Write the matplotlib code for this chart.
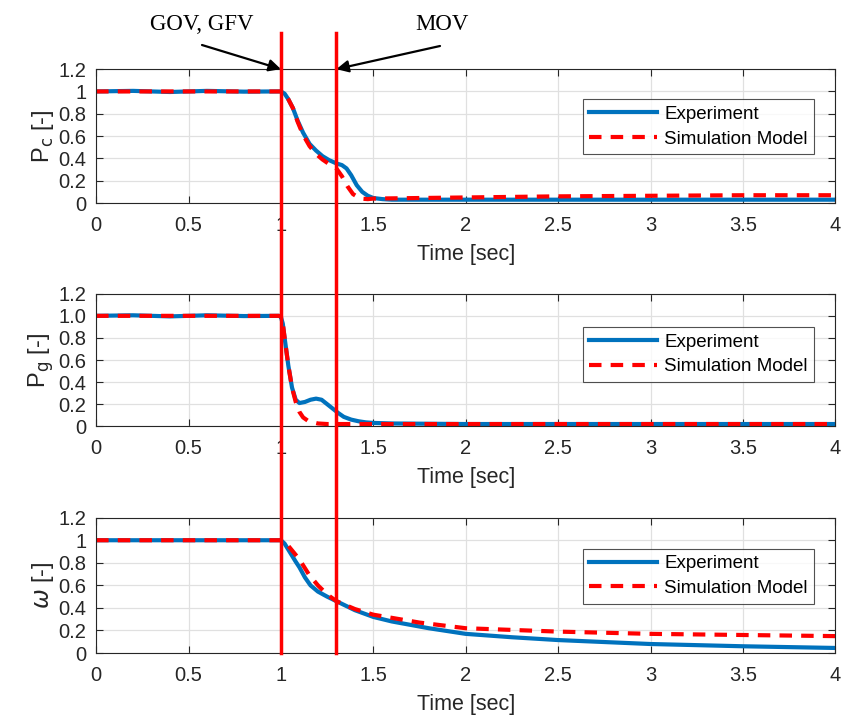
import numpy as np
import matplotlib.pyplot as plt
from matplotlib.transforms import blended_transform_factory

plt.rcParams['font.family'] = ['Liberation Sans', 'DejaVu Sans']

# Pc - experiment / simulation
pc_exp_t = [0, 0.2, 0.4, 0.6, 0.8, 0.98, 1.0, 1.02, 1.04, 1.065, 1.09, 1.12, 1.155, 1.19, 1.225, 1.26, 1.3,
            1.33, 1.355, 1.38, 1.41, 1.44, 1.47, 1.5, 1.55, 1.6, 2.0, 3.0, 4.0]
pc_exp_v = [1.0, 1.005, 0.995, 1.005, 0.998, 1.0, 1.0, 0.98, 0.93, 0.85, 0.74, 0.63, 0.53, 0.47, 0.42, 0.385, 0.355,
            0.34, 0.31, 0.25, 0.16, 0.1, 0.065, 0.045, 0.035, 0.03, 0.03, 0.03, 0.03]
pc_sim_t = [0, 0.98, 1.0, 1.02, 1.04, 1.065, 1.09, 1.12, 1.155, 1.19, 1.225, 1.26, 1.3, 1.33, 1.36,
            1.39, 1.43, 1.47, 1.5, 2.0, 2.5, 3.0, 3.5, 4.0]
pc_sim_v = [1.0, 1.0, 1.0, 0.98, 0.93, 0.85, 0.73, 0.61, 0.51, 0.44, 0.39, 0.35, 0.31, 0.24, 0.15,
            0.08, 0.04, 0.035, 0.04, 0.05, 0.06, 0.065, 0.07, 0.07]

# Pg - experiment / simulation
pg_exp_t = [0, 0.2, 0.4, 0.6, 0.8, 0.99, 1.0, 1.01, 1.02, 1.04, 1.06, 1.08, 1.1, 1.13, 1.16, 1.19, 1.22,
            1.25, 1.28, 1.31, 1.34, 1.38, 1.42, 1.46, 1.5, 1.6, 2.0, 3.0, 4.0]
pg_exp_v = [1.0, 1.005, 0.995, 1.005, 0.998, 1.0, 0.99, 0.93, 0.8, 0.55, 0.35, 0.24, 0.21, 0.22, 0.24, 0.25, 0.24,
            0.2, 0.16, 0.12, 0.085, 0.06, 0.045, 0.035, 0.03, 0.025, 0.02, 0.02, 0.02]
pg_sim_t = [0, 0.99, 1.0, 1.01, 1.02, 1.04, 1.06, 1.08, 1.1, 1.12, 1.15, 1.2, 1.25, 1.3, 1.5, 4.0]
pg_sim_v = [1.0, 1.0, 0.99, 0.93, 0.8, 0.55, 0.35, 0.22, 0.13, 0.08, 0.045, 0.025, 0.02, 0.02, 0.02, 0.02]

# omega - experiment / simulation
w_exp_t = [0, 0.99, 1.0, 1.02, 1.05, 1.08, 1.1, 1.13, 1.16, 1.2, 1.25, 1.3, 1.35, 1.4, 1.5, 1.6, 1.8,
           2.0, 2.25, 2.5, 3.0, 3.5, 4.0]
w_exp_v = [1.0, 1.0, 1.0, 0.97, 0.89, 0.81, 0.76, 0.67, 0.6, 0.545, 0.5, 0.46, 0.42, 0.38, 0.32, 0.28, 0.22,
           0.17, 0.14, 0.115, 0.08, 0.06, 0.045]
w_sim_t = [0, 0.99, 1.0, 1.02, 1.05, 1.1, 1.15, 1.2, 1.25, 1.3, 1.4, 1.5, 1.75, 2.0, 2.5, 3.0, 3.5, 4.0]
w_sim_v = [1.0, 1.0, 1.0, 0.99, 0.93, 0.83, 0.7, 0.6, 0.52, 0.46, 0.39, 0.34, 0.27, 0.22, 0.19, 0.17, 0.16, 0.15]

ylabels = ['P$_\\mathrm{c}$ [-]', 'P$_\\mathrm{g}$ [-]', '$\\omega$ [-]']
yticklabels = [['0', '0.2', '0.4', '0.6', '0.8', '1', '1.2'],
               ['0', '0.2', '0.4', '0.6', '0.8', '1.0', '1.2'],
               ['0', '0.2', '0.4', '0.6', '0.8', '1', '1.2']]
xticks = [0, 0.5, 1, 1.5, 2, 2.5, 3, 3.5, 4]
xticklabels = ['0', '0.5', '1', '1.5', '2', '2.5', '3', '3.5', '4']
events = [1.0, 1.3]

series = [(pc_exp_t, pc_exp_v, pc_sim_t, pc_sim_v),
          (pg_exp_t, pg_exp_v, pg_sim_t, pg_sim_v),
          (w_exp_t, w_exp_v, w_sim_t, w_sim_v)]

fig = plt.figure(figsize=(8.43, 7.2), dpi=100)
positions = [[0.114, 0.718, 0.877, 0.186],
             [0.114, 0.408, 0.877, 0.184],
             [0.114, 0.093, 0.877, 0.188]]
legend_y = [0.845, 0.82, 0.84]
axes = []
txt = '#262626'
for i, (et, ev, st, sv) in enumerate(series):
    ax = fig.add_axes(positions[i])
    ax.plot(et, ev, color='#0072BD', lw=3.0, label='Experiment')
    ax.plot(st, sv, color='#FF0000', lw=3.0, ls=(0, (3, 2.2)), label='Simulation Model')
    ax.set_xlim(0, 4)
    ax.set_ylim(0, 1.2)
    ax.set_xticks(xticks)
    ax.set_xticklabels(xticklabels)
    ax.set_yticks(np.arange(0, 1.21, 0.2))
    ax.set_yticklabels(yticklabels[i])
    ax.grid(True, color='#e0e0e0', lw=0.9)
    ax.set_axisbelow(True)
    ax.tick_params(direction='in', top=True, right=True, labelsize=14.5, colors=txt, length=5, pad=7)
    ax.tick_params(axis='x', pad=9)
    for s in ax.spines.values():
        s.set_color(txt)
        s.set_linewidth(0.8)
    ax.set_xlabel('Time [sec]', fontsize=15.5, color=txt, labelpad=7)
    ax.set_ylabel(ylabels[i], fontsize=17, color=txt, labelpad=2)
    leg = ax.legend(loc='upper right', bbox_to_anchor=(0.984, legend_y[i]), fontsize=13.5, handlelength=3.6,
                    frameon=True, fancybox=False, edgecolor=txt, borderpad=0.35, labelspacing=0.4,
                    handletextpad=0.4)
    leg.get_frame().set_linewidth(0.8)
    axes.append(ax)

# event lines spanning all three panels
trans = blended_transform_factory(axes[2].transData, fig.transFigure)
for x in events:
    fig.add_artist(plt.Line2D([x, x], [0.093, 1 - 33 / 720], transform=trans,
                              color='#FF0000', lw=2.5, zorder=10))

fig.text(202 / 843, 1 - 25 / 720, 'GOV, GFV', family='Liberation Serif', fontsize=16.5,
         ha='center', va='center', color='black')
fig.text(442 / 843, 1 - 25 / 720, 'MOV', family='Liberation Serif', fontsize=16.5,
         ha='center', va='center', color='black')
arrow = dict(arrowstyle='-|>', color='black', lw=1.6, mutation_scale=18, shrinkA=0, shrinkB=0)
axes[0].annotate('', xy=(1.0, 1.2), xycoords='data', xytext=(202 / 843, 1 - 45 / 720),
                 textcoords='figure fraction', arrowprops=arrow, annotation_clip=False)
axes[0].annotate('', xy=(1.3, 1.2), xycoords='data', xytext=(440 / 843, 1 - 46 / 720),
                 textcoords='figure fraction', arrowprops=arrow, annotation_clip=False)

fig.savefig('out.png', dpi=100)
